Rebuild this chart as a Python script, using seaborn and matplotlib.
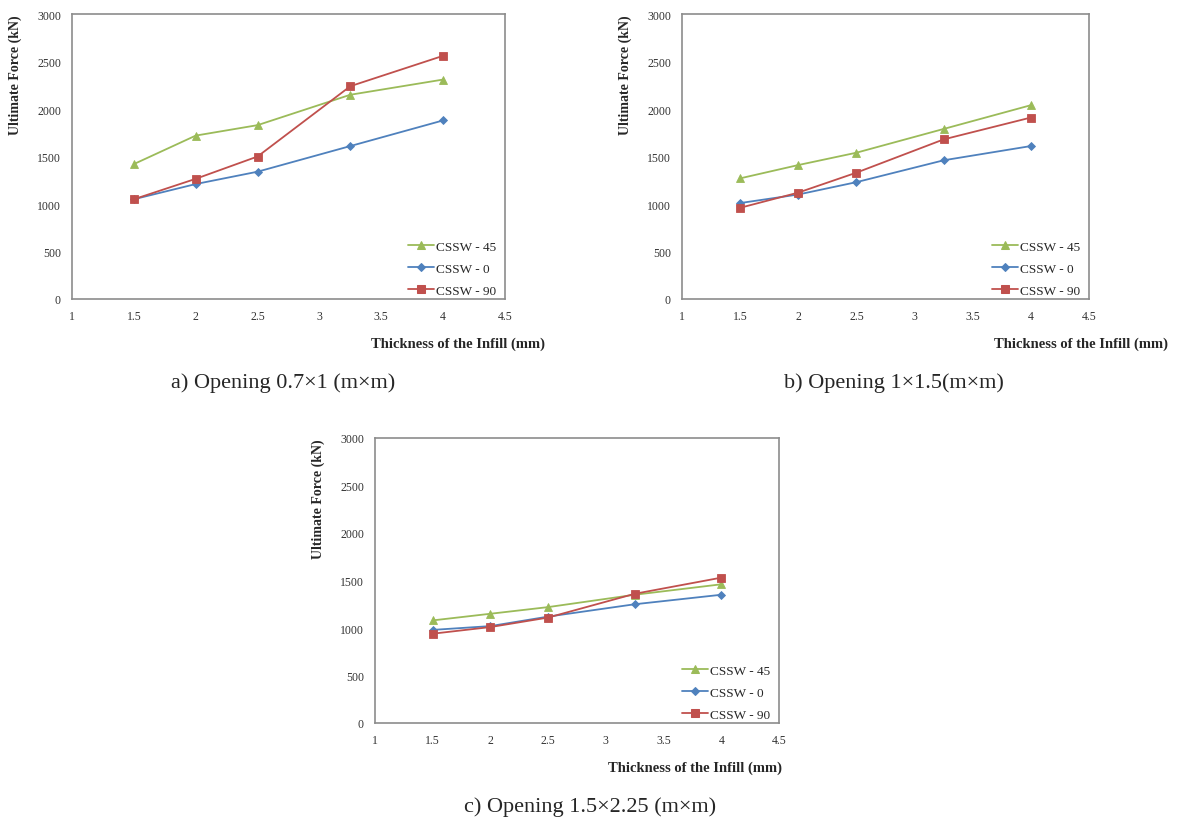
import numpy as np
import pandas as pd
import matplotlib
matplotlib.use("Agg")
import matplotlib.pyplot as plt
import seaborn as sns

# Infill plate thickness (mm)
thickness = [1.5, 2.0, 2.5, 3.25, 4.0]

series_names = ["CSSW - 45", "CSSW - 0", "CSSW - 90"]

# Ultimate force (kN) for each opening size
opening_a_45 = [1420, 1720, 1830, 2150, 2310]
opening_a_0 = [1050, 1210, 1340, 1610, 1880]
opening_a_90 = [1050, 1265, 1500, 2240, 2560]

opening_b_45 = [1270, 1410, 1540, 1790, 2040]
opening_b_0 = [1010, 1100, 1230, 1460, 1610]
opening_b_90 = [960, 1120, 1330, 1680, 1910]

opening_c_45 = [1080, 1150, 1220, 1350, 1460]
opening_c_0 = [980, 1020, 1120, 1250, 1350]
opening_c_90 = [940, 1010, 1110, 1360, 1530]

captions = ["a) Opening 0.7×1 (m×m)", "b) Opening 1×1.5(m×m)", "c) Opening 1.5×2.25 (m×m)"]
x_label = "Thickness of the Infill (mm)"
y_label = "Ultimate Force (kN)"
x_ticks = [1, 1.5, 2, 2.5, 3, 3.5, 4, 4.5]
y_ticks = [0, 500, 1000, 1500, 2000, 2500, 3000]

palette = {"CSSW - 45": "#9BBB59", "CSSW - 0": "#4F81BD", "CSSW - 90": "#C0504D"}
markers = {"CSSW - 45": "^", "CSSW - 0": "D", "CSSW - 90": "s"}
msizes = {"CSSW - 45": 6, "CSSW - 0": 4.5, "CSSW - 90": 5.8}


def long_table(v45, v0, v90):
    rows = []
    for name, vals in zip(series_names, [v45, v0, v90]):
        for t, f in zip(thickness, vals):
            rows.append({"thickness": t, "force": f, "series": name})
    return pd.DataFrame(rows)


panels = [
    long_table(opening_a_45, opening_a_0, opening_a_90),
    long_table(opening_b_45, opening_b_0, opening_b_90),
    long_table(opening_c_45, opening_c_0, opening_c_90),
]

sns.set_theme(style="white")
plt.rcParams["font.family"] = ["Liberation Serif", "DejaVu Serif"]

W, H = 1179, 828
fig = plt.figure(figsize=(W / 100, H / 100), dpi=100)
fig.patch.set_facecolor("white")

# axes boxes in pixels: left, top, right, bottom
boxes = [(72, 15, 505, 300), (682, 15, 1089, 300), (375, 439, 779, 724)]
xlabel_right = [545, 1168, 782]
caption_pos = [(148, 419, 383), (748, 1040, 383), (462, 718, 807)]

for df, (l, t, r, b), xr, cap, (cx0, cx1, cy) in zip(panels, boxes, xlabel_right, captions, caption_pos):
    ax = fig.add_axes([l / W, 1 - b / H, (r - l) / W, (b - t) / H])
    sns.lineplot(
        data=df, x="thickness", y="force", hue="series", style="series",
        hue_order=series_names, style_order=series_names,
        palette=palette, markers=markers, dashes=False,
        linewidth=1.3, ax=ax, legend=True,
    )
    for line, name in zip(ax.lines, series_names):
        c = line.get_color()
        line.set_markeredgecolor(c)
        line.set_markerfacecolor(c)
        line.set_markeredgewidth(0.6)
        line.set_markersize(msizes[name])

    ax.set_xlim(1, 4.5)
    ax.set_ylim(0, 3000)
    ax.set_xticks(x_ticks)
    ax.set_xticklabels([f"{v:g}" for v in x_ticks])
    ax.set_yticks(y_ticks)
    ax.set_yticklabels([str(v) for v in y_ticks])
    ax.tick_params(axis="both", length=0, labelsize=8.5, colors="#333333")
    ax.tick_params(axis="x", pad=8)
    ax.tick_params(axis="y", pad=8)
    for s in ax.spines.values():
        s.set_color("#8c8c8c")
        s.set_linewidth(1.2)

    ax.set_xlabel(x_label, fontsize=10.5, fontweight="bold", ha="right", va="center")
    ax.xaxis.set_label_coords((xr - l) / (r - l), -44 / (b - t))
    ax.set_ylabel(y_label, fontsize=10, fontweight="bold", ha="right", va="center")
    ax.yaxis.set_label_coords(-57 / (r - l), 1.0)

    handles, labels = ax.get_legend_handles_labels()
    for h, name in zip(handles, labels):
        c = h.get_color()
        h.set_markeredgecolor(c)
        h.set_markerfacecolor(c)
        h.set_markersize(msizes.get(name, 6))
    ax.legend(handles, labels, loc="lower right", frameon=False, fontsize=9.5,
              handlelength=2.0, handletextpad=0.15, labelspacing=0.75,
              borderaxespad=0.0, borderpad=0.0,
              bbox_to_anchor=(1 - 9 / (r - l), 2 / (b - t)))

    fig.text((cx0 + cx1) / 2 / W, 1 - cy / H, cap, fontsize=16, ha="center", va="center")

fig.savefig("out.png", dpi=100, facecolor="white")
